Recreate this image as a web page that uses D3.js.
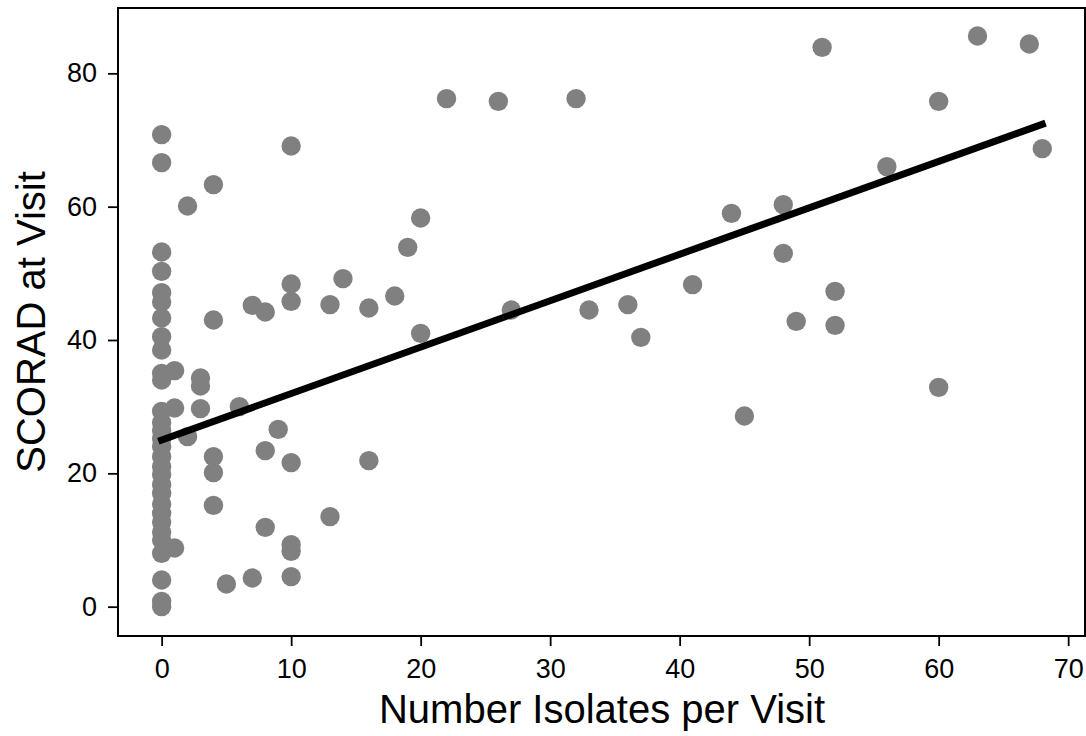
<!DOCTYPE html>
<html>
<head>
<meta charset="utf-8">
<script src="https://cdn.jsdelivr.net/npm/d3@7"></script>
<style>
    body { margin: 0; background: #fff; }
    text { font-family: "Liberation Sans", Arial, Helvetica, sans-serif; fill: #000; }
</style>
</head>
<body>
<script>
//number of isolates per visit (x) and SCORAD score at that visit (y)
var isolates = [0,0,0,0,0,0,0,0,0,0,0,0,0,0,0,0,0,0,0,0,0,0,0,0,0,0,0,0,0,0,
                1,1,1, 2,2, 3,3,3, 4,4,4,4,4, 5, 6, 7,7, 8,8,8, 9,
                10,10,10,10,10,10,10, 13,13, 14, 16,16, 18, 19, 20,20,
                22, 26, 27, 32, 33, 36, 37, 41, 44, 45, 48,48, 49, 51, 52,52,
                56, 60,60, 63, 67, 68];
var scorad = [70.8,66.6,53.2,50.3,47.1,45.7,43.3,40.5,38.5,35.0,34.0,29.3,27.6,26.4,25.2,
              24.0,22.5,21.0,19.8,18.3,17.0,15.4,14.0,12.7,11.2,10.0,8.0,4.0,0.8,0.0,
              35.4,29.8,8.8, 60.1,25.5, 34.3,33.1,29.7, 63.3,43.0,22.5,20.1,15.2, 3.4, 30.0,
              45.2,4.3, 44.2,23.4,11.9, 26.6,
              69.1,48.4,45.8,21.6,9.3,8.3,4.5, 45.3,13.5, 49.2, 44.8,21.9, 46.6, 53.9, 58.3,41.0,
              76.2, 75.8, 44.5, 76.2, 44.5, 45.3, 40.4, 48.3, 59.0, 28.6, 60.3,53.0, 42.8, 83.9,
              47.3,42.2, 66.0, 75.8,32.9, 85.6, 84.4, 68.7];

//fitted trend line, end points
var fitX = [0, 68];
var fitY = [25.0, 72.35];

var xTicks = [0, 10, 20, 30, 40, 50, 60, 70];
var yTicks = [0, 20, 40, 60, 80];

(function (){

    var width = 1086, height = 736;
    var left = 118, right = 1085, top = 8, bottom = 636;

    var svg = d3.select("body")
        .append("svg")
        .attr("width", width)
        .attr("height", height);

    var x = d3.scaleLinear().domain([-3.37, 71.3]).range([left, right]);
    var y = d3.scaleLinear().domain([-4.4, 89.8]).range([bottom, top]);

    var points = isolates.map(function(d, i){ return {x: d, y: scorad[i]}; });

    //scatter points
    svg.selectAll(".dot")
        .data(points)
        .enter()
        .append("circle")
        .attr("class", "dot")
        .attr("cx", function(d){ return x(d.x); })
        .attr("cy", function(d){ return y(d.y); })
        .attr("r", 9.7)
        .style("fill", "#808080");

    //trend line
    svg.append("line")
        .attr("x1", x(fitX[0]))
        .attr("y1", y(fitY[0]))
        .attr("x2", x(fitX[1]))
        .attr("y2", y(fitY[1]))
        .style("stroke", "#000")
        .style("stroke-width", 7)
        .style("stroke-linecap", "square");

    //axes
    var xAxis = svg.append("g")
        .attr("transform", "translate(0," + bottom + ")")
        .call(d3.axisBottom(x).tickValues(xTicks).tickSize(10).tickPadding(13));
    var yAxis = svg.append("g")
        .attr("transform", "translate(" + left + ",0)")
        .call(d3.axisLeft(y).tickValues(yTicks).tickSize(10).tickPadding(11));

    [xAxis, yAxis].forEach(function(ax){
        ax.select(".domain").remove();
        ax.selectAll("line").style("stroke", "#000").style("stroke-width", 1.8);
        ax.selectAll("text").style("font-size", "27px").attr("fill", "#000");
    });

    //frame round the plot area
    svg.append("rect")
        .attr("x", left)
        .attr("y", top)
        .attr("width", right - left)
        .attr("height", bottom - top)
        .style("fill", "none")
        .style("stroke", "#000")
        .style("stroke-width", 2);

    //axis titles
    svg.append("text")
        .attr("x", (left + right) / 2 + 0.5)
        .attr("y", 723)
        .attr("text-anchor", "middle")
        .style("font-size", "40px")
        .text("Number Isolates per Visit");

    svg.append("text")
        .attr("transform", "translate(45," + (top + bottom) / 2 + ") rotate(-90)")
        .attr("text-anchor", "middle")
        .style("font-size", "40px")
        .text("SCORAD at Visit");

})();
</script>
</body>
</html>
